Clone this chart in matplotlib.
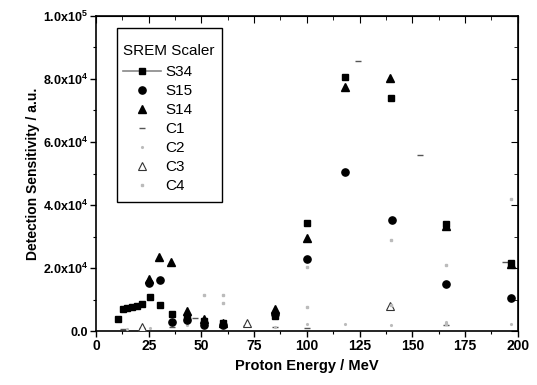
import matplotlib
matplotlib.use("Agg")
import matplotlib.pyplot as plt
from matplotlib.lines import Line2D
from matplotlib.patches import Rectangle
from matplotlib.ticker import MultipleLocator, FixedLocator

plt.rcParams['font.family'] = ['Liberation Sans', 'DejaVu Sans']
plt.rcParams['mathtext.fontset'] = 'custom'
plt.rcParams['mathtext.bf'] = 'Liberation Sans:bold'
plt.rcParams['mathtext.rm'] = 'Liberation Sans'

# ---- data ----
s34_x = [10.4, 12.7, 14.9, 16.9, 19.3, 21.7, 25.6, 30.4, 35.9, 43.0, 51.3, 60.4, 85.0, 100.3, 118.2, 140.0, 166.0, 196.8]
s34_y = [4000, 7100, 7500, 7800, 8100, 8800, 10800, 8300, 5600, 4700, 3300, 2800, 5000, 34400, 80600, 74000, 34100, 21600]

s15_x = [25.3, 30.4, 35.9, 43.0, 51.3, 60.4, 85.1, 100.3, 118.3, 140.3, 166.1, 196.8]
s15_y = [15400, 16300, 2900, 3500, 2200, 2000, 5500, 22900, 50400, 35300, 14900, 10700]

s14_x = [25.3, 30.0, 35.5, 43.0, 51.3, 60.4, 85.0, 100.3, 118.0, 139.5, 166.0, 196.8]
s14_y = [16500, 23500, 22000, 6600, 3800, 2600, 7000, 29500, 77500, 80400, 33500, 21500]

c1_x = [12.7, 21.7, 35.9, 47.0, 60.4, 85.0, 100.3, 124.5, 153.8, 166.0, 194.0]
c1_y = [900, 1200, 1500, 4300, 2500, 1500, 1200, 85700, 55900, 2000, 22000]

c2_x = [14.9, 25.6, 43.0, 51.3, 70.0, 85.0, 100.3, 118.2, 140.0, 166.0, 196.8]
c2_y = [800, 1000, 2000, 1500, 1800, 1500, 2500, 2500, 2000, 3000, 2500]

c3_x = [21.7, 71.8, 139.5]
c3_y = [1500, 2800, 8000]

c4_x = [51.0, 60.4, 60.4, 100.3, 100.3, 140.0, 140.0, 166.0, 166.0, 196.8]
c4_y = [11500, 11500, 8900, 20500, 7800, 29000, 8400, 21000, 2500, 42000]

x_ticks = [0, 25, 50, 75, 100, 125, 150, 175, 200]
y_ticks = [0, 20000, 40000, 60000, 80000, 100000]
y_tick_labels = ["0.0", r"2.0x10$^{\mathbf{4}}$", r"4.0x10$^{\mathbf{4}}$",
                 r"6.0x10$^{\mathbf{4}}$", r"8.0x10$^{\mathbf{4}}$", r"1.0x10$^{\mathbf{5}}$"]

fig = plt.figure(figsize=(5.37, 3.85), dpi=100)
ax = fig.add_axes([0.1788, 0.139, 0.7852, 0.820])

ax.plot(s34_x, s34_y, ls='none', marker='s', ms=4.6, color='black', zorder=5)
ax.plot(s15_x, s15_y, ls='none', marker='o', ms=5.2, color='black', zorder=5)
ax.plot(s14_x, s14_y, ls='none', marker='^', ms=5.6, color='black', zorder=5)
ax.plot(c1_x, c1_y, ls='none', marker='_', ms=4.5, color='#555555', mew=1.0, zorder=4)
ax.plot(c2_x, c2_y, ls='none', marker='.', ms=2.5, color='#bbbbbb', zorder=4)
ax.plot(c3_x, c3_y, ls='none', marker='^', ms=5.2, mfc='white', mec='#333333', mew=0.8, zorder=4)
ax.plot(c4_x, c4_y, ls='none', marker=(4, 0, 45), ms=3, color='#bbbbbb', zorder=4)

ax.set_xlim(0, 200)
ax.set_ylim(0, 100000)
ax.xaxis.set_major_locator(FixedLocator(x_ticks))
ax.xaxis.set_minor_locator(MultipleLocator(12.5))
ax.yaxis.set_major_locator(FixedLocator(y_ticks))
ax.yaxis.set_minor_locator(MultipleLocator(10000))
ax.set_xticklabels([str(v) for v in x_ticks], fontsize=10, fontweight='bold')
ax.set_yticklabels(y_tick_labels, fontsize=9, fontweight='bold')

ax.tick_params(which='both', direction='out', top=False, right=False)
ax.tick_params(which='major', length=4, width=1.0)
ax.tick_params(which='minor', length=2.5, width=0.8)
ax.tick_params(axis='y', pad=2)
ax.tick_params(axis='x', pad=1.5)

ax2 = ax.secondary_xaxis('top')
ax2.xaxis.set_major_locator(FixedLocator(x_ticks))
ax2.xaxis.set_minor_locator(MultipleLocator(12.5))
ax2.tick_params(which='both', direction='in', labeltop=False)
ax2.tick_params(which='major', length=5)
ax2.tick_params(which='minor', length=3)
ay2 = ax.secondary_yaxis('right')
ay2.yaxis.set_major_locator(FixedLocator(y_ticks))
ay2.yaxis.set_minor_locator(MultipleLocator(10000))
ay2.tick_params(which='both', direction='in', labelright=False)
ay2.tick_params(which='major', length=5)
ay2.tick_params(which='minor', length=3)

for sp in ax.spines.values():
    sp.set_linewidth(1.2)

ax.set_xlabel("Proton Energy / MeV", fontsize=10.5, fontweight='bold', labelpad=4)
ax.set_ylabel("Detection Sensitivity / a.u.", fontsize=10, fontweight='bold', labelpad=2)

handles = [
    Line2D([], [], color='#888888', lw=1.2, marker='s', ms=4.6, mfc='black', mec='black'),
    Line2D([], [], ls='none', marker='o', ms=5.2, color='black'),
    Line2D([], [], ls='none', marker='^', ms=5.6, color='black'),
    Line2D([], [], ls='none', marker='_', ms=4.5, color='#555555'),
    Line2D([], [], ls='none', marker='.', ms=2.5, color='#bbbbbb'),
    Line2D([], [], ls='none', marker='^', ms=5.2, mfc='white', mec='#333333', mew=0.8),
    Line2D([], [], ls='none', marker=(4, 0, 45), ms=3, color='#bbbbbb'),
]
labels = ["S34", "S15", "S14", "C1", "C2", "C3", "C4"]
leg = ax.legend(handles, labels, title="SREM Scaler", loc='upper left',
                bbox_to_anchor=(0.064, 0.91), fontsize=11, title_fontsize=11,
                frameon=False, handlelength=2.5, labelspacing=0.33, borderpad=0,
                handletextpad=0.25, borderaxespad=0)
leg._legend_box.align = "left"
leg._legend_box.sep = 5
leg.set_zorder(6)

ax.add_patch(Rectangle((0.0491, 0.410), 0.2497, 0.551, transform=ax.transAxes,
                       facecolor='white', edgecolor='black', lw=1.0, zorder=5.5))

fig.savefig("out.png", dpi=100)
